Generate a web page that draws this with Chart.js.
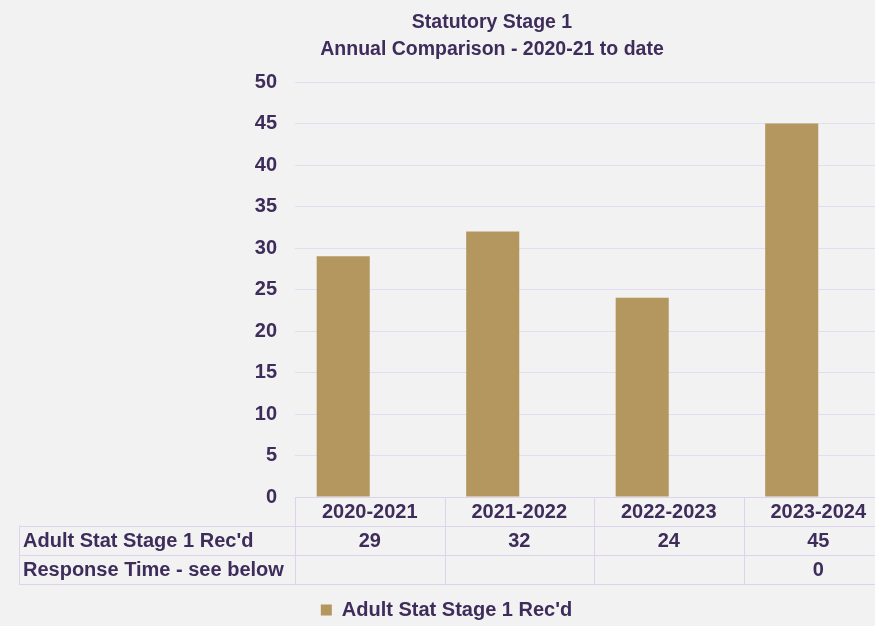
<!DOCTYPE html>
<html>
<head>
<meta charset="utf-8">
<script src="https://cdn.jsdelivr.net/npm/chart.js@4.4.1/dist/chart.umd.min.js"></script>
<style>
  html, body { margin: 0; padding: 0; background: #f2f2f2; overflow: hidden; }
  #wrap { position: relative; width: 875px; height: 626px; overflow: hidden; background: #f2f2f2; }
  #box { position: absolute; left: 0; top: 0; width: 906px; height: 626px; }
  #title {
    position: absolute; left: 292px; top: 8px; width: 400px;
    text-align: center; color: #3e2c5b;
    font: bold 19.5px "Liberation Sans", Arial, sans-serif; line-height: 27px;
  }
</style>
</head>
<body>
<div id="wrap">
  <div id="box"><canvas id="chart" width="906" height="626"></canvas></div>
  <div id="title">Statutory Stage 1<br>Annual Comparison - 2020-21 to date</div>
</div>
<script>
// Financial years shown on the category axis
const categories = ['2020-2021', '2021-2022', '2022-2023', '2023-2024'];

// Series
const receivedLabel = "Adult Stat Stage 1 Rec'd";
const received = [29, 32, 24, 45];
const responseLabel = 'Response Time - see below';
const responseTime = [null, null, null, 0];

// Value axis
const yMin = 0;
const yMax = 50;
const yStep = 5;

const TEXT = '#3e2c5b';
const GRID = '#e4dcf0';
const LINE = '#ddd4ec';
const BAR = '#b4975e';
const FONT = '"Liberation Sans", Arial, sans-serif';

// Draws the data table under the category axis: header cells around the
// axis labels, then one row per series with its values.
const dataTable = {
  id: 'dataTable',
  afterDraw(chart) {
    const { ctx, chartArea, scales } = chart;
    const x = scales.x;
    const n = categories.length;
    const cw = (chartArea.right - chartArea.left) / n;
    const edges = [];
    for (let i = 0; i <= n; i++) edges.push(x.getPixelForValue(0) - cw / 2 + i * cw);
    const top = chartArea.bottom;
    const rowsY = [top, top + 28.5, top + 58, top + 87];
    const labelLeft = 19;

    ctx.save();
    ctx.strokeStyle = LINE;
    ctx.lineWidth = 1;
    const hl = (x1, x2, y) => { ctx.beginPath(); ctx.moveTo(x1, Math.round(y) + 0.5); ctx.lineTo(x2, Math.round(y) + 0.5); ctx.stroke(); };
    const vl = (xx, y1, y2) => { ctx.beginPath(); ctx.moveTo(Math.round(xx) + 0.5, y1); ctx.lineTo(Math.round(xx) + 0.5, y2); ctx.stroke(); };

    hl(edges[0], edges[n], rowsY[0]);
    hl(labelLeft, edges[n], rowsY[1]);
    hl(labelLeft, edges[n], rowsY[2]);
    hl(labelLeft, edges[n], rowsY[3]);
    edges.forEach(e => vl(e, rowsY[0], rowsY[3]));
    vl(labelLeft, rowsY[1], rowsY[3]);

    const rows = [[receivedLabel, received], [responseLabel, responseTime]];
    ctx.fillStyle = TEXT;
    ctx.font = 'bold 20px ' + FONT;
    ctx.textBaseline = 'middle';
    rows.forEach(([label, values], r) => {
      const cy = (rowsY[r + 1] + rowsY[r + 2]) / 2 + 1;
      ctx.textAlign = 'left';
      ctx.fillText(label, labelLeft + 4, cy);
      ctx.textAlign = 'center';
      values.forEach((v, i) => {
        if (v !== null && v !== undefined) ctx.fillText(String(v), x.getPixelForValue(i), cy);
      });
    });
    ctx.restore();
  }
};

new Chart(document.getElementById('chart'), {
  type: 'bar',
  data: {
    labels: categories,
    datasets: [
      { label: receivedLabel, data: received, backgroundColor: BAR, borderWidth: 0 },
      { label: responseLabel, data: responseTime, backgroundColor: '#7b5ea7', borderWidth: 0 }
    ]
  },
  options: {
    responsive: false,
    devicePixelRatio: 1,
    animation: false,
    categoryPercentage: 0.71,
    barPercentage: 1,
    layout: { padding: { top: 82, left: 0, right: 13, bottom: -4 } },
    plugins: {
      title: { display: false },
      tooltip: { enabled: false },
      legend: {
        position: 'bottom',
        labels: {
          filter: item => item.datasetIndex === 0,
          boxWidth: 11,
          boxHeight: 11,
          padding: 16,
          color: TEXT,
          font: { family: FONT, size: 20, weight: 'bold' }
        }
      }
    },
    scales: {
      x: {
        grid: { display: false, drawTicks: false },
        border: { display: false },
        ticks: { color: TEXT, padding: 3, font: { family: FONT, size: 20, weight: 'bold' } },
        afterFit(scale) { scale.height = 87; }
      },
      y: {
        min: yMin,
        max: yMax,
        grid: { color: GRID, drawTicks: false, lineWidth: 1 },
        border: { display: false },
        ticks: { stepSize: yStep, color: TEXT, padding: 18, font: { family: FONT, size: 20, weight: 'bold' } },
        afterFit(scale) { scale.width = 295; }
      }
    }
  },
  plugins: [dataTable]
});
</script>
</body>
</html>
